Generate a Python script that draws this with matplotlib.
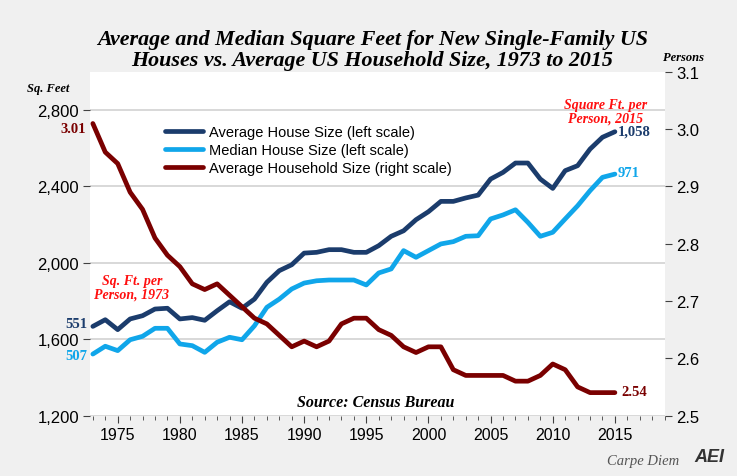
import matplotlib
matplotlib.use("Agg")
import matplotlib.pyplot as plt
from matplotlib.ticker import MultipleLocator, FuncFormatter
import numpy as np

# data
years = np.arange(1973, 2016)
avg_size = [1667, 1702, 1650, 1706, 1723, 1758, 1762, 1706, 1713, 1699,
            1749, 1796, 1762, 1810, 1898, 1959, 1990, 2051, 2055, 2069,
            2069, 2055, 2055, 2090, 2139, 2168, 2226, 2268, 2322, 2322,
            2340, 2355, 2439, 2474, 2523, 2523, 2439, 2390, 2483, 2509,
            2596, 2658, 2687]
median_size = [1522, 1563, 1540, 1597, 1615, 1657, 1657, 1575, 1566, 1531,
               1584, 1610, 1597, 1670, 1767, 1810, 1863, 1894, 1906, 1910,
               1910, 1910, 1884, 1947, 1968, 2064, 2029, 2064, 2099, 2111,
               2139, 2142, 2230, 2251, 2278, 2212, 2139, 2160, 2230, 2299,
               2378, 2448, 2465]
household = [3.01, 2.96, 2.94, 2.89, 2.86, 2.81, 2.78, 2.76, 2.73, 2.72,
             2.73, 2.71, 2.69, 2.67, 2.66, 2.64, 2.62, 2.63, 2.62, 2.63,
             2.66, 2.67, 2.67, 2.65, 2.64, 2.62, 2.61, 2.62, 2.62, 2.58,
             2.57, 2.57, 2.57, 2.57, 2.56, 2.56, 2.57, 2.59, 2.58, 2.55,
             2.54, 2.54, 2.54]
sqft_per_person = ["551", "507", "1,058", "971"]

c_avg = "#1b3c6c"
c_med = "#10a6ea"
c_hh = "#7a0000"
bg = "#f0f0f0"
serif = "Liberation Serif"
sans = "Liberation Sans"

fig = plt.figure(figsize=(7.37, 4.77), dpi=100, facecolor=bg)
ax = fig.add_axes([0.1221, 0.1268, 0.7802, 0.7202])
ax.set_facecolor("white")
ax2 = ax.twinx()

l1, = ax.plot(years, avg_size, color=c_avg, lw=3.4, solid_capstyle="round",
              label="Average House Size (left scale)")
l2, = ax.plot(years, median_size, color=c_med, lw=3.4, solid_capstyle="round",
              label="Median House Size (left scale)")
l3, = ax2.plot(years, household, color=c_hh, lw=3.4, solid_capstyle="round",
               label="Average Household Size (right scale)")

ax.set_xlim(1972.77, 2019.03)
ax.set_ylim(1200, 3000)
ax2.set_ylim(2.5, 3.1)
ax.set_yticks([1200, 1600, 2000, 2400, 2800])
ax.yaxis.set_major_formatter(FuncFormatter(lambda v, p: f"{int(v):,}"))
ax2.set_yticks(np.arange(2.5, 3.11, 0.1))
ax2.yaxis.set_major_formatter(FuncFormatter(lambda v, p: f"{v:.1f}"))
ax.xaxis.set_major_locator(MultipleLocator(5))
ax.xaxis.set_minor_locator(MultipleLocator(1))
ax.grid(axis="y", color="#d6d6d6", lw=1.3)
ax.set_axisbelow(True)

for a in (ax, ax2):
    for s in a.spines.values():
        s.set_visible(False)
ax.tick_params(axis="both", which="major", direction="out", length=5,
               color="#404040", labelsize=12, pad=3)
ax.tick_params(axis="x", which="minor", direction="out", length=3, color="#404040")
ax.tick_params(axis="x", labelsize=11.5)
ax2.tick_params(axis="y", direction="out", length=5, color="#404040", labelsize=12, pad=3)
for lab in ax.get_xticklabels() + ax.get_yticklabels() + ax2.get_yticklabels():
    lab.set_family(sans)

leg = ax2.legend(handles=[l1, l2, l3], loc="upper left",
                 bbox_to_anchor=(0.12, 0.862), frameon=False,
                 prop={"family": sans, "size": 10.5}, handlelength=2.6,
                 handletextpad=0.4, labelspacing=0.28, borderaxespad=0)

fig.text(0.505, 0.894, "Average and Median Square Feet for New Single-Family US\n"
         "Houses vs. Average US Household Size, 1973 to 2015",
         ha="center", va="center", family=serif, weight="bold", style="italic",
         fontsize=15.8, linespacing=1.1)
fig.text(0.065, 0.813, "Sq. Feet", ha="center", va="center", family=serif,
         weight="bold", style="italic", fontsize=9)
fig.text(0.928, 0.878, "Persons", ha="center", va="center", family=serif,
         weight="bold", style="italic", fontsize=9)

bold_serif = dict(family=serif, weight="bold", fontsize=10.5)
fig.text(0.117, 0.729, "3.01", ha="right", va="center", color=c_hh, **bold_serif)
fig.text(0.118, 0.320, sqft_per_person[0], ha="right", va="center", color=c_avg, **bold_serif)
fig.text(0.118, 0.253, sqft_per_person[1], ha="right", va="center", color=c_med, **bold_serif)
fig.text(0.838, 0.723, sqft_per_person[2], ha="left", va="center", color=c_avg, **bold_serif)
fig.text(0.838, 0.637, sqft_per_person[3], ha="left", va="center", color=c_med, **bold_serif)
fig.text(0.843, 0.178, "2.54", ha="left", va="center", color=c_hh, **bold_serif)

fig.text(0.179, 0.396, "Sq. Ft. per\nPerson, 1973", ha="center", va="center",
         color="#ff1010", family=serif, weight="bold", style="italic",
         fontsize=10, linespacing=1.05)
fig.text(0.822, 0.765, "Square Ft. per\nPerson, 2015", ha="center", va="center",
         color="#ff1010", family=serif, weight="bold", style="italic",
         fontsize=10, linespacing=1.1)
fig.text(0.51, 0.155, "Source: Census Bureau", ha="center", va="center",
         family=serif, weight="bold", style="italic", fontsize=11.5)
fig.text(0.872, 0.032, "Carpe Diem", ha="center", va="center", family=serif,
         style="italic", fontsize=10.5, color="#555555")
fig.text(0.962, 0.040, "AEI", ha="center", va="center", family=sans,
         weight="bold", style="italic", fontsize=13, color="#333333")

fig.savefig("out.png", dpi=100, facecolor=bg)
